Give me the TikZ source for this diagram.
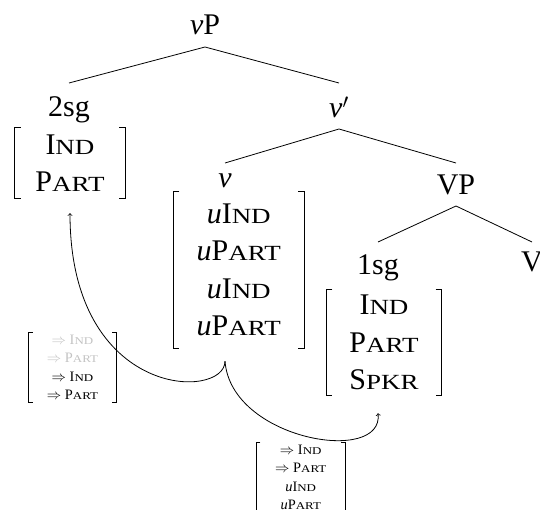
\documentclass[tikz,border=0pt]{standalone}
\usepackage{fontspec}
\setmainfont{Liberation Serif}
\usepackage{graphicx}
\newcommand\fsc[2]{#1\scalebox{0.9}[0.72]{#2}}
\definecolor{faded}{RGB}{195,195,195}
\newcommand\fsbrackets[3]{%
  \draw[#3] ([xshift=#2]#1.north west) -- (#1.north west) -- (#1.south west) -- ([xshift=#2]#1.south west);
  \draw[#3] ([xshift=-#2]#1.north east) -- (#1.north east) -- (#1.south east) -- ([xshift=-#2]#1.south east);}
\begin{document}
\begin{tikzpicture}[x=1pt,y=-1pt,
  lbl/.style={font=\fontsize{30}{37}\selectfont, inner sep=0pt, anchor=base},
  fs/.style={font=\fontsize{30}{37.5}\selectfont, align=center, inner sep=0pt},
  fsm/.style={font=\fontsize{14.4}{18.5}\selectfont, align=center, inner sep=0pt},
  branch/.style={line width=0.8pt},
  brk/.style={line width=1.3pt},
  brksm/.style={line width=0.8pt},
  mv/.style={line width=0.8pt,->}]
\useasboundingbox (0,0) rectangle (540,510);

% labels
\node[lbl] (vP) at (205,35) {\textit{v}P};
\node[lbl] (twosg) at (69,117) {2sg};
\node[lbl] (vbar) at (339,118) {\textit{v}$'$};
\node[lbl] (v) at (225,188) {\textit{v}};
\node[lbl] (VP) at (456,195) {VP};
\node[lbl] (onesg) at (378,275) {1sg};
\node[lbl] (V) at (532,272) {V};

% feature structures
\node[fs, minimum width=110pt, minimum height=70pt] (fA) at (70,163)
  {\fsc{I}{ND}\\\fsc{P}{ART}};
\node[fs, minimum width=130.5pt, minimum height=156pt] (fB) at (238.75,270)
  {\textit{u}\fsc{I}{ND}\\\textit{u}\fsc{P}{ART}\\\textit{u}\fsc{I}{ND}\\\textit{u}\fsc{P}{ART}};
\node[fs, minimum width=115pt, minimum height=105pt] (fC) at (384,342.5)
  {\fsc{I}{ND}\\\fsc{P}{ART}\\\fsc{S}{PKR}};
\node[fsm, minimum width=87pt, minimum height=69pt] (fD) at (72.5,367.5)
  {\textcolor{faded}{$\Rightarrow$ \fsc{I}{ND}}\\\textcolor{faded}{$\Rightarrow$ \fsc{P}{ART}}\\$\Rightarrow$ \fsc{I}{ND}\\$\Rightarrow$ \fsc{P}{ART}};
\node[fsm, minimum width=88.5pt, minimum height=69pt] (fE) at (300.75,477.5)
  {$\Rightarrow$ \fsc{I}{ND}\\$\Rightarrow$ \fsc{P}{ART}\\\textit{u}\fsc{I}{ND}\\\textit{u}\fsc{P}{ART}};

\fsbrackets{fA}{6pt}{brk}
\fsbrackets{fB}{6pt}{brk}
\fsbrackets{fC}{6pt}{brk}
\fsbrackets{fD}{4pt}{brksm}
\fsbrackets{fE}{4pt}{brksm}

% branches
\draw[branch] ([yshift=34pt]twosg.base) -- ([yshift=-12pt]vP.base) -- ([yshift=35pt]vbar.base);
\draw[branch] ([yshift=25pt]v.base) -- ([yshift=-11pt]vbar.base) -- ([yshift=32pt]VP.base);
\draw[branch] ([yshift=33pt]onesg.base) -- ([yshift=-11pt]VP.base) -- ([yshift=30pt]V.base);

% movement arrows
\coordinate (cusp) at (v |- fB.south);
\draw[mv] ([yshift=-13pt]cusp) .. controls +(0,39) and +(0,187) .. ([yshift=-15pt]fA.south);
\draw[mv] ([yshift=-13pt]cusp) .. controls +(6,79) and +(6,52) .. ([xshift=-6pt,yshift=-18pt]fC.south);
\end{tikzpicture}
\end{document}
